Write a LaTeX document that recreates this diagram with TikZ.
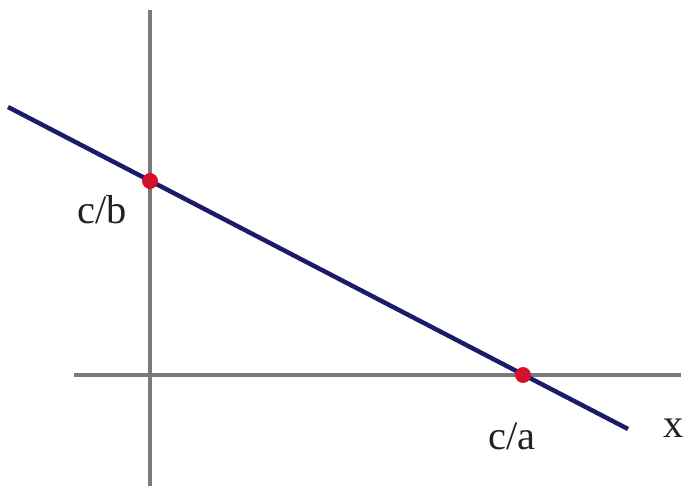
\documentclass[tikz,border=0pt]{standalone}
\usepackage{fontspec}
\setmainfont{Liberation Serif}
\begin{document}
\begin{tikzpicture}[x=0.02cm,y=-0.02cm,
  axis/.style={draw=axisgray,line width=4*0.567pt},
  graphline/.style={draw=navy,line width=4.5*0.567pt},
  dot/.style={circle,fill=dotred,inner sep=0pt,minimum size=16*0.567pt},
  lbl/.style={font=\fontsize{23}{25}\selectfont,text=labelgray,inner sep=0pt}]
\definecolor{axisgray}{HTML}{7A7A7A}
\definecolor{navy}{HTML}{1C1A6A}
\definecolor{dotred}{HTML}{D4102C}
\definecolor{labelgray}{HTML}{222222}
\useasboundingbox (0,0) rectangle (685,487);
\coordinate (ytop) at (150,10);
\coordinate (ybot) at (150,486);
\coordinate (xl) at (74,375);
\coordinate (xr) at (681,375);
\coordinate (ls) at (8,107);
\coordinate (le) at (628,429);
\draw[axis] (ytop) -- (ybot);
\draw[axis] (xl) -- (xr);
\draw[graphline] (ls) -- (le);
\node[dot] (p1) at (150,181) {};
\node[dot] (p2) at (523,375) {};
\node[lbl] (cb) at (102,210) {c/b};
\node[lbl] (ca) at (512,436) {c/a};
\node[lbl] (x) at (674,428) {x};
\end{tikzpicture}
\end{document}
